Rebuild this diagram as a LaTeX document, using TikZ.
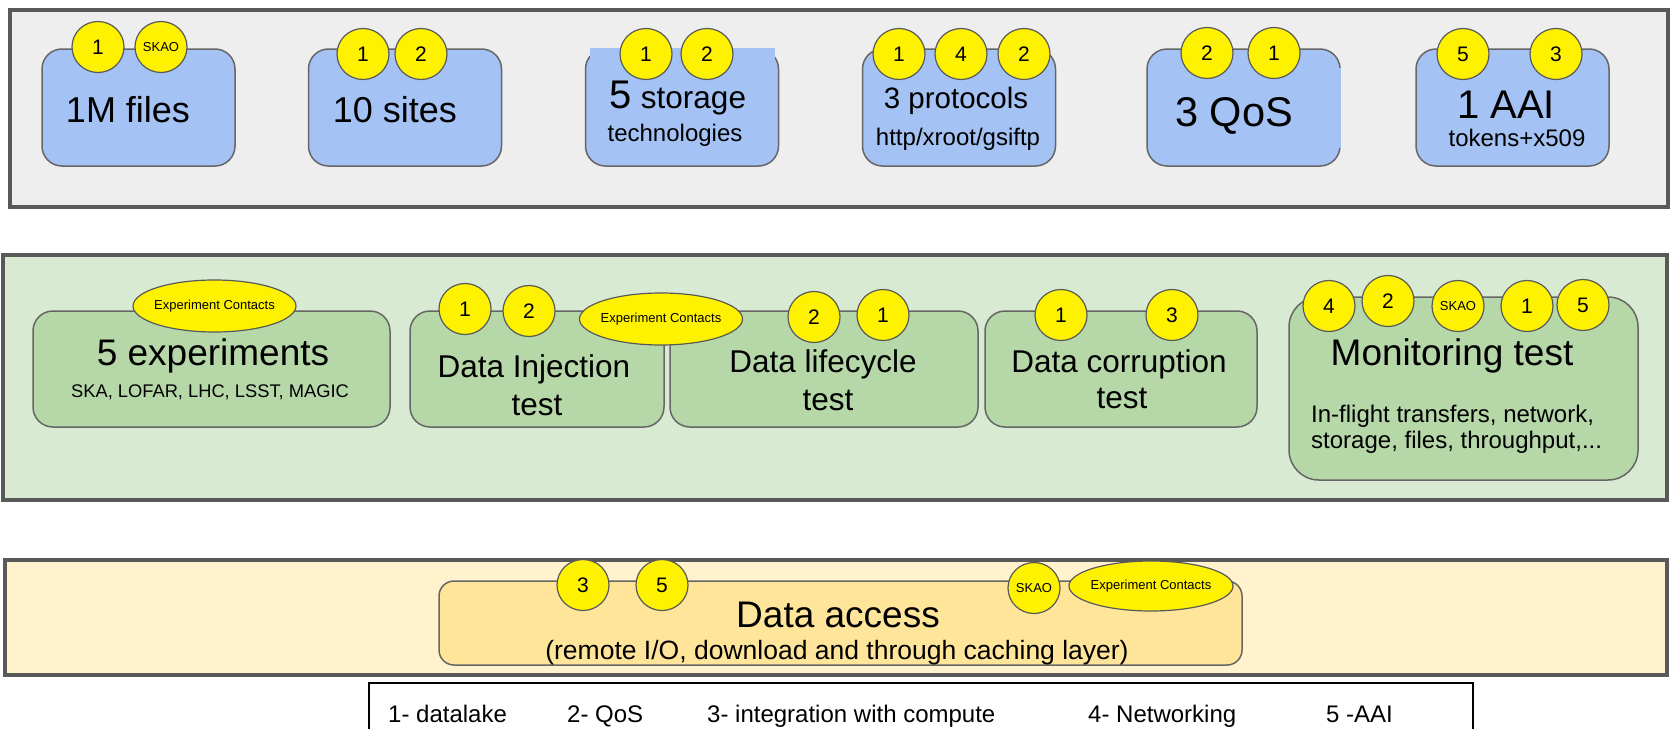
\documentclass[tikz,border=0pt]{standalone}
\usepackage{fontspec}
\setmainfont{Liberation Sans}
\usetikzlibrary{shapes.geometric}

\definecolor{panelgray}{HTML}{EEEEEE}
\definecolor{panelgreen}{HTML}{D9EAD3}
\definecolor{panelyellow}{HTML}{FFF2CC}
\definecolor{boxblue}{HTML}{A4C2F4}
\definecolor{boxgreen}{HTML}{B6D7A8}
\definecolor{boxyellow}{HTML}{FFE599}
\definecolor{edgegray}{HTML}{595959}
\definecolor{boxline}{HTML}{666666}

\newcommand{\fsize}[1]{\fontsize{#1pt}{#1pt}\selectfont}

\tikzset{
  badge/.style={ellipse, draw=edgegray, line width=1.2pt, fill=yellow,
    inner sep=0pt, minimum width=52pt, minimum height=51pt, font=\fsize{21}},
  skao/.style={badge, font=\fsize{13}},
  contacts/.style={badge, inner xsep=-5pt, minimum width=163pt,
    minimum height=52pt, font=\fsize{13}},
  card/.style={draw=boxline, line width=1.5pt, rounded corners=20pt, inner sep=0pt},
}

\begin{document}
\begin{tikzpicture}[x=1pt,y=-1pt]
      \useasboundingbox (0,0) rectangle (1672,728);

      % the three layers
      \begin{scope}[every node/.style={draw=edgegray, line width=4pt, inner sep=0pt}]
        \node[fill=panelgray,   minimum width=1658pt, minimum height=197pt] (infra) at (839,108.5) {};
        \node[fill=panelgreen,  minimum width=1664pt, minimum height=245pt] (tests) at (835,377.5) {};
        \node[fill=panelyellow, minimum width=1662pt, minimum height=115pt] (access) at (836,617.5) {};
      \end{scope}

      % infrastructure cards
      \begin{scope}[every node/.style={card, fill=boxblue, minimum width=193pt, minimum height=117pt}]
        \node (files)  at (138.5,107.5)  {};
        \node (sites)  at (405,107.5)    {};
        \node (stor)   at (682,107.5)    {};
        \node (proto)  at (959,107.5)    {};
        \node (qos)    at (1243.5,107.5) {};
        \node (aai)    at (1512.5,107.5) {};
      \end{scope}
      \fill[boxblue] (590,48) rectangle (775,60);
      \fill[boxblue] (1337,68) rectangle (1341,148);
      \fill[panelgray] (1341,68) rectangle (1344,148);

      % test cards
      \begin{scope}[every node/.style={card, fill=boxgreen, minimum height=116pt}]
        \node[minimum width=357pt] (exp)     at (211.5,369) {};
        \node[minimum width=254pt] (inject)  at (537,369)   {};
        \node[minimum width=308pt] (life)    at (824,369)   {};
        \node[minimum width=272pt] (corrupt) at (1121,369)  {};
        \node[minimum width=349pt, minimum height=183pt, rounded corners=30pt] (monit) at (1463.5,388.5) {};
      \end{scope}

      \node[card, fill=boxyellow, rounded corners=15pt, minimum width=803pt, minimum height=84pt] (dacc) at (840.5,623) {};

      % legend frame
      \node[draw=black, line width=1.5pt, anchor=north west, inner sep=0pt,
            minimum width=1104pt, minimum height=70pt] (legend) at (368,682) {};

      % card texts
      \begin{scope}[every node/.style={anchor=base, inner sep=0pt}]
        \node[font=\fsize{36}]   (files-t)  at (128,122)  {1M files};
        \node[font=\fsize{36}]   (sites-t)  at (395,122)  {10 sites};
        \node[font=\fsize{31.5}] (stor-t)   at (678,108)  {{\fsize{40}5} storage};
        \node[font=\fsize{24}]   (stor-s)   at (675,141)  {technologies};
        \node[font=\fsize{29.5}] (proto-t)  at (956,108)  {3 protocols};
        \node[font=\fsize{24}]   (proto-s)  at (958,145)  {http/xroot/gsiftp};
        \node[font=\fsize{41.5}] (qos-t)    at (1234,126) {3 QoS};
        \node[font=\fsize{40}]   (aai-t)    at (1506,118) {1 AAI};
        \node[font=\fsize{24}]   (aai-s)    at (1517,146) {tokens+x509};

        \node[font=\fsize{37}]   (exp-t)    at (213,365)  {5 experiments};
        \node[font=\fsize{18.3}] (exp-s)    at (210,397)  {SKA, LOFAR, LHC, LSST, MAGIC};
        \node[font=\fsize{31.5}] (inject-t) at (534,377)  {Data Injection};
        \node[font=\fsize{31.5}] (inject-s) at (537,415)  {test};
        \node[font=\fsize{31.5}] (life-t)   at (823,372)  {Data lifecycle};
        \node[font=\fsize{31.5}] (life-s)   at (828,410)  {test};
        \node[font=\fsize{31.5}] (corr-t)   at (1119,372) {Data corruption};
        \node[font=\fsize{31.5}] (corr-s)   at (1122,408) {test};
        \node[font=\fsize{37}]   (monit-t)  at (1452,365) {Monitoring test};
        \node[font=\fsize{24}, anchor=base west] (monit-a) at (1311,422) {In-flight transfers, network,};
        \node[font=\fsize{24}, anchor=base west] (monit-b) at (1311,448) {storage, files, throughput,...};

        \node[font=\fsize{37}]   (dacc-t)   at (838,627)  {Data access};
        \node[font=\fsize{26.5}] (dacc-s)   at (837,659)  {(remote I/O, download and through caching layer)};
      \end{scope}

      % legend entries
      \begin{scope}[every node/.style={anchor=base west, inner sep=0pt, font=\fsize{24}}]
        \node (leg1) at (388,722)  {1- datalake};
        \node (leg2) at (567,722)  {2- QoS};
        \node (leg3) at (707,722)  {3- integration with compute};
        \node (leg4) at (1088,722) {4- Networking};
        \node (leg5) at (1326,722) {5 -AAI};
      \end{scope}

      % topic badges
      \begin{scope}[every node/.style={badge}]
        \node (files-1)   at (98,47)    {1};
        \node[skao] (files-k) at (161,47) {SKAO};
        \node (sites-1)   at (363,54)   {1};
        \node (sites-2)   at (421,54)   {2};
        \node (stor-1)    at (646,54)   {1};
        \node (stor-2)    at (707,54)   {2};
        \node (proto-1)   at (899,54)   {1};
        \node (proto-4)   at (961,54)   {4};
        \node (proto-2)   at (1024,54)  {2};
        \node (qos-2)     at (1207,53)  {2};
        \node (qos-1)     at (1274,53)  {1};
        \node (aai-5)     at (1463,54)  {5};
        \node (aai-3)     at (1556,54)  {3};

        \node[contacts] (exp-c) at (214.5,306) {Experiment Contacts};
        \node (inject-1)  at (465,309)  {1};
        \node (inject-2)  at (529,311)  {2};
        \node[contacts] (inject-c) at (661,319) {Experiment Contacts};
        \node (life-2)    at (814,317)  {2};
        \node (life-1)    at (883,315)  {1};
        \node (corr-1)    at (1061,315) {1};
        \node (corr-3)    at (1172,315) {3};
        \node (monit-4)   at (1329,306) {4};
        \node (monit-2)   at (1388,301) {2};
        \node[skao] (monit-k) at (1458,306) {SKAO};
        \node (monit-1)   at (1527,306) {1};
        \node (monit-5)   at (1583,305) {5};

        \node (dacc-3)    at (583,585)  {3};
        \node (dacc-5)    at (662,585)  {5};
        \node[skao] (dacc-k) at (1034,588) {SKAO};
        \node[contacts, minimum width=164pt, minimum height=50pt] (dacc-c) at (1151,586) {Experiment Contacts};
      \end{scope}

    \end{tikzpicture}
\end{document}
